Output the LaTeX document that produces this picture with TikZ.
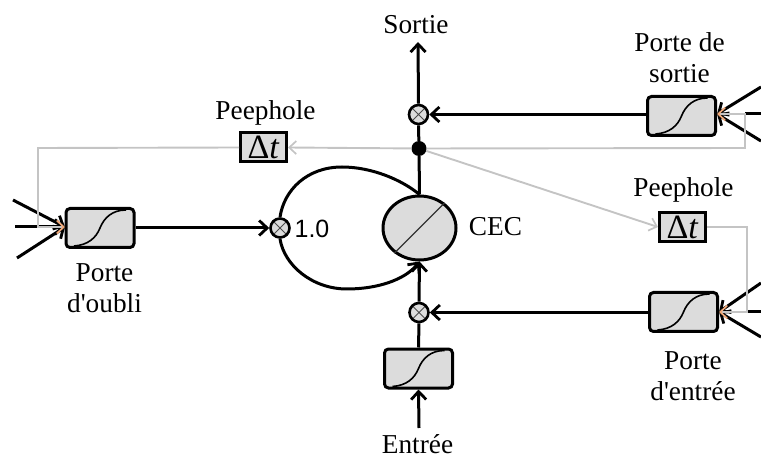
\documentclass[tikz,border=0pt]{standalone}
\usepackage{fontspec}
\setmainfont{Liberation Serif}
\newfontfamily\plainf{Liberation Serif}
\newfontfamily\arialf{Liberation Sans}
\usetikzlibrary{arrows.meta,calc,shapes.geometric}
\definecolor{boxg}{HTML}{DCDCDC}
\definecolor{wireg}{HTML}{C4C4C4}
\definecolor{tipo}{HTML}{F0A878}
\tikzset{
  gatebox/.style={draw=black,line width=3pt,rounded corners=4pt,fill=boxg,minimum width=68pt,minimum height=39pt,inner sep=0pt},
  dtbox/.style={draw=black,line width=3pt,fill=boxg,minimum width=46pt,minimum height=29pt,inner sep=0pt,font=\fontsize{34}{34}\selectfont},
  mult/.style={circle,draw=black,line width=2.6pt,fill=boxg,minimum size=19pt,inner sep=0pt,
    path picture={\draw[line width=1pt,black!70] (path picture bounding box.north west)--(path picture bounding box.south east)
      (path picture bounding box.north east)--(path picture bounding box.south west);}},
  lab/.style={font=\plainf\fontsize{27.3}{31}\selectfont,align=center,inner sep=0pt},
  wire/.style={line width=3pt,black},
  wirea/.style={wire,-{Straight Barb[length=8pt,width=15pt,line width=2.8pt]}},
  gwire/.style={line width=1.9pt,wireg},
  gwirea/.style={gwire,-{Straight Barb[length=7pt,width=13pt,line width=1.7pt]}},
  gwireo/.style={gwire,-{Straight Barb[length=7pt,width=13pt,line width=1.7pt,color=tipo]}},
  sigline/.style={line width=1.6pt,black},
}
\newcommand{\sigm}[1]{\draw[sigline] ([shift={(-26,18)}]#1.center) .. controls ([shift={(-12,17)}]#1.center) and ([shift={(-4,10)}]#1.center) .. ([shift={(0,0)}]#1.center) .. controls ([shift={(4,-10)}]#1.center) and ([shift={(12,-18)}]#1.center) .. ([shift={(26,-18)}]#1.center);}
\begin{document}
\begin{tikzpicture}[x=1pt,y=-1pt]
\useasboundingbox (0,0) rectangle (761,457);
% nodes
\node[gatebox] (gl) at (100,228) {};
\node[gatebox] (gs) at (681.5,116) {};
\node[gatebox] (ge) at (683.5,312) {};
\node[gatebox] (gi) at (418.5,368.5) {};
\node[mult] (ml) at (280,228) {};
\node[mult] (ms) at (418.5,114.5) {};
\node[mult] (me) at (419,312.5) {};
\node[circle,fill=black,minimum size=15pt,inner sep=0pt] (dot) at (419,148.5) {};
\node[ellipse,draw=black,line width=3pt,fill=boxg,minimum width=73pt,minimum height=64pt,inner sep=0pt] (cec) at (419.5,228) {};
\node[dtbox] (p1) at (263.5,147.5) {\plainf Δ\textit{t}};
\node[dtbox] (p2) at (682.5,227) {\plainf Δ\textit{t}};
% labels
\node[lab] (tsortie) at (416,25) {Sortie};
\node[lab] (tentree) at (417.5,444) {Entrée};
\node[lab] (tp1) at (265.5,113) {Peephole};
\node[lab] (tp2) at (683.5,190) {Peephole};
\node[lab] (tgs) at (679.5,58) {Porte de\\sortie};
\node[lab] (tgl) at (104.5,288) {Porte\\d'oubli};
\node[lab] (tge) at (693,376) {Porte\\d'entrée};
\node[lab] (tcec) at (495.5,227) {CEC};
\node[font=\arialf\fontsize{25}{25}\selectfont,inner sep=0pt] (tone) at (312,229) {1.0};
\sigm{gl}\sigm{gs}\sigm{ge}\sigm{gi}
\draw[line width=1.2pt,black!80] (cec.45) -- (cec.225);
% free ends
\coordinate (outT) at (418,42);
\coordinate (inB) at (419,428);
\coordinate (l1) at (13,200);
\coordinate (l2) at (15,227);
\coordinate (l3) at (17,258);
\coordinate (s1) at (761,87);
\coordinate (s2) at (761,114);
\coordinate (s3) at (761,141);
\coordinate (e1) at (761,283);
\coordinate (e2) at (761,312);
\coordinate (e3) at (761,337);
\coordinate (glin) at (65,227);
\coordinate (gsin) at (717,114);
\coordinate (gein) at (719,312);
\coordinate (c1) at (38,148);
\coordinate (c2) at (38,227);
\coordinate (c3) at (745,148);
\coordinate (c4) at (745,114);
\coordinate (c5) at (747,227);
\coordinate (c6) at (747,312);
% black connectors
\draw[wirea] (ms.north) -- (outT);
\draw[wire] (ms.south) -- (dot);
\draw[wire] (dot) -- (cec.north);
\draw[wirea] (me.north) -- (cec.south);
\draw[wire] (gi.north) -- (me.south);
\draw[wirea] (inB) -- (gi.south);
\draw[wirea] (gs.west |- ms.east) -- (ms.east);
\draw[wirea] (ge.west |- me.east) -- (me.east);
\draw[wirea] (gl.east) -- (ml.west);
\draw[wire] (cec.north) .. controls (402,180) and (372,167) .. (342,167) .. controls (307,167) and (284,190) .. (ml.north);
\draw[wirea] (ml.south) .. controls (284,265) and (312,289) .. (347,289) .. controls (377,289) and (405,280) .. (cec.south);
\draw[wirea] (l1) -- (glin);
\draw[wirea] (l2) -- (glin);
\draw[wirea] (l3) -- (glin);
\draw[wirea] (s1) -- (gsin);
\draw[wirea] (s3) -- (gsin);
\draw[wire] (s2) -- (c4);
\draw[wirea] (e1) -- (gein);
\draw[wirea] (e3) -- (gein);
\draw[wire] (e2) -- (c6);
% grey connectors
\draw[gwirea] (dot) -- (p1.east);
\draw[gwireo] (p1.west) -- (c1) -- (c2) -- (glin);
\draw[gwireo] (dot) -- (c3) -- (c4) -- (gsin);
\draw[gwirea] (dot) -- (p2.west);
\draw[gwireo] (p2.east) -- (c5) -- (c6) -- (gein);
\end{tikzpicture}
\end{document}
